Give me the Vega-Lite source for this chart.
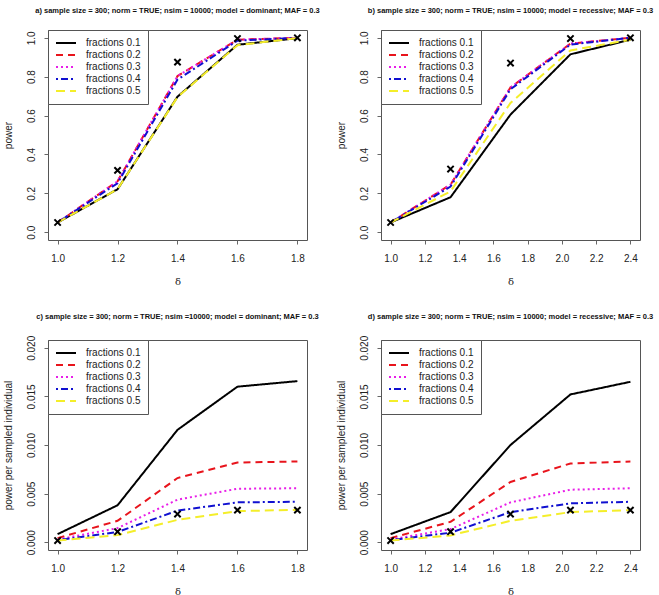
{
  "$schema": "https://vega.github.io/schema/vega-lite/v6.json",
  "background": "white",
  "padding": {"left": 2, "top": 6, "right": 5, "bottom": 3},
  "autosize": {"type": "pad"},
  "bounds": "flush",
  "columns": 2,
  "spacing": {"row": 100, "column": 74},
  "datasets": {
    "lines": [
      {"p":"a","d":1.0,"s":"fractions 0.1","v":0.05},{"p":"a","d":1.2,"s":"fractions 0.1","v":0.221},{"p":"a","d":1.4,"s":"fractions 0.1","v":0.697},{"p":"a","d":1.6,"s":"fractions 0.1","v":0.964},{"p":"a","d":1.8,"s":"fractions 0.1","v":0.998},
      {"p":"a","d":1.0,"s":"fractions 0.2","v":0.05},{"p":"a","d":1.2,"s":"fractions 0.2","v":0.262},{"p":"a","d":1.4,"s":"fractions 0.2","v":0.803},{"p":"a","d":1.6,"s":"fractions 0.2","v":0.99},{"p":"a","d":1.8,"s":"fractions 0.2","v":1.0},
      {"p":"a","d":1.0,"s":"fractions 0.3","v":0.05},{"p":"a","d":1.2,"s":"fractions 0.3","v":0.262},{"p":"a","d":1.4,"s":"fractions 0.3","v":0.803},{"p":"a","d":1.6,"s":"fractions 0.3","v":0.99},{"p":"a","d":1.8,"s":"fractions 0.3","v":1.0},
      {"p":"a","d":1.0,"s":"fractions 0.4","v":0.05},{"p":"a","d":1.2,"s":"fractions 0.4","v":0.252},{"p":"a","d":1.4,"s":"fractions 0.4","v":0.785},{"p":"a","d":1.6,"s":"fractions 0.4","v":0.985},{"p":"a","d":1.8,"s":"fractions 0.4","v":1.0},
      {"p":"a","d":1.0,"s":"fractions 0.5","v":0.05},{"p":"a","d":1.2,"s":"fractions 0.5","v":0.221},{"p":"a","d":1.4,"s":"fractions 0.5","v":0.695},{"p":"a","d":1.6,"s":"fractions 0.5","v":0.962},{"p":"a","d":1.8,"s":"fractions 0.5","v":0.998},
      {"p":"b","d":1.0,"s":"fractions 0.1","v":0.05},{"p":"b","d":1.35,"s":"fractions 0.1","v":0.18},{"p":"b","d":1.7,"s":"fractions 0.1","v":0.605},{"p":"b","d":2.05,"s":"fractions 0.1","v":0.915},{"p":"b","d":2.4,"s":"fractions 0.1","v":0.99},
      {"p":"b","d":1.0,"s":"fractions 0.2","v":0.05},{"p":"b","d":1.35,"s":"fractions 0.2","v":0.245},{"p":"b","d":1.7,"s":"fractions 0.2","v":0.745},{"p":"b","d":2.05,"s":"fractions 0.2","v":0.97},{"p":"b","d":2.4,"s":"fractions 0.2","v":1.0},
      {"p":"b","d":1.0,"s":"fractions 0.3","v":0.05},{"p":"b","d":1.35,"s":"fractions 0.3","v":0.245},{"p":"b","d":1.7,"s":"fractions 0.3","v":0.745},{"p":"b","d":2.05,"s":"fractions 0.3","v":0.97},{"p":"b","d":2.4,"s":"fractions 0.3","v":1.0},
      {"p":"b","d":1.0,"s":"fractions 0.4","v":0.05},{"p":"b","d":1.35,"s":"fractions 0.4","v":0.235},{"p":"b","d":1.7,"s":"fractions 0.4","v":0.735},{"p":"b","d":2.05,"s":"fractions 0.4","v":0.965},{"p":"b","d":2.4,"s":"fractions 0.4","v":1.0},
      {"p":"b","d":1.0,"s":"fractions 0.5","v":0.05},{"p":"b","d":1.35,"s":"fractions 0.5","v":0.21},{"p":"b","d":1.7,"s":"fractions 0.5","v":0.665},{"p":"b","d":2.05,"s":"fractions 0.5","v":0.935},{"p":"b","d":2.4,"s":"fractions 0.5","v":0.99},
      {"p":"c","d":1.0,"s":"fractions 0.1","v":0.00083},{"p":"c","d":1.2,"s":"fractions 0.1","v":0.0038},{"p":"c","d":1.4,"s":"fractions 0.1","v":0.01156},{"p":"c","d":1.6,"s":"fractions 0.1","v":0.0160},{"p":"c","d":1.8,"s":"fractions 0.1","v":0.01657},
      {"p":"c","d":1.0,"s":"fractions 0.2","v":0.00042},{"p":"c","d":1.2,"s":"fractions 0.2","v":0.0022},{"p":"c","d":1.4,"s":"fractions 0.2","v":0.0066},{"p":"c","d":1.6,"s":"fractions 0.2","v":0.0082},{"p":"c","d":1.8,"s":"fractions 0.2","v":0.0083},
      {"p":"c","d":1.0,"s":"fractions 0.3","v":0.00028},{"p":"c","d":1.2,"s":"fractions 0.3","v":0.00145},{"p":"c","d":1.4,"s":"fractions 0.3","v":0.00438},{"p":"c","d":1.6,"s":"fractions 0.3","v":0.0055},{"p":"c","d":1.8,"s":"fractions 0.3","v":0.00555},
      {"p":"c","d":1.0,"s":"fractions 0.4","v":0.00021},{"p":"c","d":1.2,"s":"fractions 0.4","v":0.00105},{"p":"c","d":1.4,"s":"fractions 0.4","v":0.00325},{"p":"c","d":1.6,"s":"fractions 0.4","v":0.0041},{"p":"c","d":1.8,"s":"fractions 0.4","v":0.00416},
      {"p":"c","d":1.0,"s":"fractions 0.5","v":0.00017},{"p":"c","d":1.2,"s":"fractions 0.5","v":0.00073},{"p":"c","d":1.4,"s":"fractions 0.5","v":0.0023},{"p":"c","d":1.6,"s":"fractions 0.5","v":0.0032},{"p":"c","d":1.8,"s":"fractions 0.5","v":0.00333},
      {"p":"d","d":1.0,"s":"fractions 0.1","v":0.00083},{"p":"d","d":1.35,"s":"fractions 0.1","v":0.0031},{"p":"d","d":1.7,"s":"fractions 0.1","v":0.0100},{"p":"d","d":2.05,"s":"fractions 0.1","v":0.0152},{"p":"d","d":2.4,"s":"fractions 0.1","v":0.0165},
      {"p":"d","d":1.0,"s":"fractions 0.2","v":0.00042},{"p":"d","d":1.35,"s":"fractions 0.2","v":0.0021},{"p":"d","d":1.7,"s":"fractions 0.2","v":0.0062},{"p":"d","d":2.05,"s":"fractions 0.2","v":0.0081},{"p":"d","d":2.4,"s":"fractions 0.2","v":0.0083},
      {"p":"d","d":1.0,"s":"fractions 0.3","v":0.00028},{"p":"d","d":1.35,"s":"fractions 0.3","v":0.00135},{"p":"d","d":1.7,"s":"fractions 0.3","v":0.0041},{"p":"d","d":2.05,"s":"fractions 0.3","v":0.0054},{"p":"d","d":2.4,"s":"fractions 0.3","v":0.00555},
      {"p":"d","d":1.0,"s":"fractions 0.4","v":0.00021},{"p":"d","d":1.35,"s":"fractions 0.4","v":0.00098},{"p":"d","d":1.7,"s":"fractions 0.4","v":0.0031},{"p":"d","d":2.05,"s":"fractions 0.4","v":0.0040},{"p":"d","d":2.4,"s":"fractions 0.4","v":0.00416},
      {"p":"d","d":1.0,"s":"fractions 0.5","v":0.00017},{"p":"d","d":1.35,"s":"fractions 0.5","v":0.0007},{"p":"d","d":1.7,"s":"fractions 0.5","v":0.0022},{"p":"d","d":2.05,"s":"fractions 0.5","v":0.0031},{"p":"d","d":2.4,"s":"fractions 0.5","v":0.0033}
    ],
    "pts": [
      {"p":"a","d":1.0,"v":0.05},{"p":"a","d":1.2,"v":0.318},{"p":"a","d":1.4,"v":0.875},{"p":"a","d":1.6,"v":0.996},{"p":"a","d":1.8,"v":1.0},
      {"p":"b","d":1.0,"v":0.05},{"p":"b","d":1.35,"v":0.325},{"p":"b","d":1.7,"v":0.87},{"p":"b","d":2.05,"v":0.996},{"p":"b","d":2.4,"v":1.0},
      {"p":"c","d":1.0,"v":0.00017},{"p":"c","d":1.2,"v":0.00108},{"p":"c","d":1.4,"v":0.0029},{"p":"c","d":1.6,"v":0.0033},{"p":"c","d":1.8,"v":0.0033},
      {"p":"d","d":1.0,"v":0.00017},{"p":"d","d":1.35,"v":0.00108},{"p":"d","d":1.7,"v":0.0029},{"p":"d","d":2.05,"v":0.0033},{"p":"d","d":2.4,"v":0.0033}
    ]
  },
  "concat": [
    {
      "width": 259, "height": 210,
      "title": {"text": "a) sample size = 300; norm = TRUE; nsim = 10000; model = dominant; MAF = 0.3"},
      "encoding": {
        "x": {"field": "d", "type": "quantitative", "scale": {"domain": [0.968, 1.832], "nice": false, "zero": false}, "axis": {"values": [1.0, 1.2, 1.4, 1.6, 1.8], "format": ".1f", "title": "δ"}},
        "y": {"field": "v", "type": "quantitative", "scale": {"domain": [-0.04, 1.04], "nice": false, "zero": false}, "axis": {"values": [0, 0.2, 0.4, 0.6, 0.8, 1.0], "format": ".1f", "title": "power"}}
      },
      "layer": [
        {"data": {"name": "lines"}, "transform": [{"filter": "datum.p == 'a'"}], "mark": {"type": "line"},
         "encoding": {
           "color": {"field": "s", "type": "nominal", "scale": {"domain": ["fractions 0.1","fractions 0.2","fractions 0.3","fractions 0.4","fractions 0.5"], "range": ["#000000","#E8141C","#E81EE8","#1010D0","#F4EE2A"]}, "legend": {"title": null}},
           "strokeDash": {"field": "s", "type": "nominal", "scale": {"domain": ["fractions 0.1","fractions 0.2","fractions 0.3","fractions 0.4","fractions 0.5"], "range": [[1,0],[7,5],[2,3],[2,3,7,3],[9,5]]}, "legend": {"title": null}},
           "strokeWidth": {"field": "s", "type": "nominal", "scale": {"domain": ["fractions 0.1","fractions 0.2","fractions 0.3","fractions 0.4","fractions 0.5"], "range": [2,2,2,2,3]}, "legend": null}
         }},
        {"data": {"name": "pts"}, "transform": [{"filter": "datum.p == 'a'"}], "mark": {"type": "point", "shape": "M-1,-1L1,1M-1,1L1,-1", "size": 40, "strokeWidth": 2, "color": "#000", "filled": false, "opacity": 1}}
      ]
    },
    {
      "width": 259, "height": 210,
      "title": {"text": "b) sample size = 300; norm = TRUE; nsim = 10000; model = recessive; MAF = 0.3"},
      "encoding": {
        "x": {"field": "d", "type": "quantitative", "scale": {"domain": [0.944, 2.456], "nice": false, "zero": false}, "axis": {"values": [1.0, 1.2, 1.4, 1.6, 1.8, 2.0, 2.2, 2.4], "format": ".1f", "title": "δ"}},
        "y": {"field": "v", "type": "quantitative", "scale": {"domain": [-0.04, 1.04], "nice": false, "zero": false}, "axis": {"values": [0, 0.2, 0.4, 0.6, 0.8, 1.0], "format": ".1f", "title": "power"}}
      },
      "layer": [
        {"data": {"name": "lines"}, "transform": [{"filter": "datum.p == 'b'"}], "mark": {"type": "line"},
         "encoding": {
           "color": {"field": "s", "type": "nominal", "scale": {"domain": ["fractions 0.1","fractions 0.2","fractions 0.3","fractions 0.4","fractions 0.5"], "range": ["#000000","#E8141C","#E81EE8","#1010D0","#F4EE2A"]}, "legend": {"title": null}},
           "strokeDash": {"field": "s", "type": "nominal", "scale": {"domain": ["fractions 0.1","fractions 0.2","fractions 0.3","fractions 0.4","fractions 0.5"], "range": [[1,0],[7,5],[2,3],[2,3,7,3],[9,5]]}, "legend": {"title": null}},
           "strokeWidth": {"field": "s", "type": "nominal", "scale": {"domain": ["fractions 0.1","fractions 0.2","fractions 0.3","fractions 0.4","fractions 0.5"], "range": [2,2,2,2,3]}, "legend": null}
         }},
        {"data": {"name": "pts"}, "transform": [{"filter": "datum.p == 'b'"}], "mark": {"type": "point", "shape": "M-1,-1L1,1M-1,1L1,-1", "size": 40, "strokeWidth": 2, "color": "#000", "filled": false, "opacity": 1}}
      ]
    },
    {
      "width": 259, "height": 210,
      "title": {"text": "c) sample size = 300; norm = TRUE; nsim =10000; model = dominant; MAF = 0.3"},
      "encoding": {
        "x": {"field": "d", "type": "quantitative", "scale": {"domain": [0.968, 1.832], "nice": false, "zero": false}, "axis": {"values": [1.0, 1.2, 1.4, 1.6, 1.8], "format": ".1f", "title": "δ"}},
        "y": {"field": "v", "type": "quantitative", "scale": {"domain": [-0.0008, 0.0208], "nice": false, "zero": false}, "axis": {"values": [0, 0.005, 0.01, 0.015, 0.02], "format": ".3f", "title": "power per sampled individual"}}
      },
      "layer": [
        {"data": {"name": "lines"}, "transform": [{"filter": "datum.p == 'c'"}], "mark": {"type": "line"},
         "encoding": {
           "color": {"field": "s", "type": "nominal", "scale": {"domain": ["fractions 0.1","fractions 0.2","fractions 0.3","fractions 0.4","fractions 0.5"], "range": ["#000000","#E8141C","#E81EE8","#1010D0","#F4EE2A"]}, "legend": {"title": null}},
           "strokeDash": {"field": "s", "type": "nominal", "scale": {"domain": ["fractions 0.1","fractions 0.2","fractions 0.3","fractions 0.4","fractions 0.5"], "range": [[1,0],[7,5],[2,3],[2,3,7,3],[9,5]]}, "legend": {"title": null}},
           "strokeWidth": {"field": "s", "type": "nominal", "scale": {"domain": ["fractions 0.1","fractions 0.2","fractions 0.3","fractions 0.4","fractions 0.5"], "range": [2,2,2,2,3]}, "legend": null}
         }},
        {"data": {"name": "pts"}, "transform": [{"filter": "datum.p == 'c'"}], "mark": {"type": "point", "shape": "M-1,-1L1,1M-1,1L1,-1", "size": 40, "strokeWidth": 2, "color": "#000", "filled": false, "opacity": 1}}
      ]
    },
    {
      "width": 259, "height": 210,
      "title": {"text": "d) sample size = 300; norm = TRUE; nsim = 10000; model = recessive; MAF = 0.3"},
      "encoding": {
        "x": {"field": "d", "type": "quantitative", "scale": {"domain": [0.944, 2.456], "nice": false, "zero": false}, "axis": {"values": [1.0, 1.2, 1.4, 1.6, 1.8, 2.0, 2.2, 2.4], "format": ".1f", "title": "δ"}},
        "y": {"field": "v", "type": "quantitative", "scale": {"domain": [-0.0008, 0.0208], "nice": false, "zero": false}, "axis": {"values": [0, 0.005, 0.01, 0.015, 0.02], "format": ".3f", "title": "power per sampled individual"}}
      },
      "layer": [
        {"data": {"name": "lines"}, "transform": [{"filter": "datum.p == 'd'"}], "mark": {"type": "line"},
         "encoding": {
           "color": {"field": "s", "type": "nominal", "scale": {"domain": ["fractions 0.1","fractions 0.2","fractions 0.3","fractions 0.4","fractions 0.5"], "range": ["#000000","#E8141C","#E81EE8","#1010D0","#F4EE2A"]}, "legend": {"title": null}},
           "strokeDash": {"field": "s", "type": "nominal", "scale": {"domain": ["fractions 0.1","fractions 0.2","fractions 0.3","fractions 0.4","fractions 0.5"], "range": [[1,0],[7,5],[2,3],[2,3,7,3],[9,5]]}, "legend": {"title": null}},
           "strokeWidth": {"field": "s", "type": "nominal", "scale": {"domain": ["fractions 0.1","fractions 0.2","fractions 0.3","fractions 0.4","fractions 0.5"], "range": [2,2,2,2,3]}, "legend": null}
         }},
        {"data": {"name": "pts"}, "transform": [{"filter": "datum.p == 'd'"}], "mark": {"type": "point", "shape": "M-1,-1L1,1M-1,1L1,-1", "size": 40, "strokeWidth": 2, "color": "#000", "filled": false, "opacity": 1}}
      ]
    }
  ],
  "resolve": {
    "scale": {"x": "independent", "y": "independent"},
    "axis": {"x": "independent", "y": "independent"},
    "legend": {"color": "independent", "strokeDash": "independent"}
  },
  "config": {
    "view": {"stroke": "#555", "strokeWidth": 1},
    "title": {"font": "Liberation Sans", "fontSize": 7.5, "fontWeight": "bold", "color": "#111", "anchor": "middle", "frame": "group", "offset": 15},
    "axis": {"domain": false, "grid": false, "ticks": true, "tickColor": "#666", "tickSize": 4, "labelFont": "Liberation Sans", "labelFontSize": 10, "labelColor": "#222", "titleFont": "Liberation Sans", "titleFontSize": 10, "titleFontWeight": "normal", "titleColor": "#222"},
    "axisX": {"titleFont": "DejaVu Serif", "titleFontSize": 10, "titlePadding": 13, "labelPadding": 9},
    "axisY": {"labelAngle": -90, "labelAlign": "center", "labelBaseline": "bottom", "titlePadding": 13, "labelPadding": 8},
    "legend": {"orient": "top-left", "offset": 0, "padding": 7, "strokeColor": "#555", "fillColor": "white", "symbolType": "stroke", "symbolSize": 400, "symbolStrokeWidth": 2, "clipHeight": 12, "rowPadding": 0, "labelFont": "Liberation Sans", "labelFontSize": 10, "labelColor": "#222", "labelOffset": 9, "cornerRadius": 0}
  }
}
